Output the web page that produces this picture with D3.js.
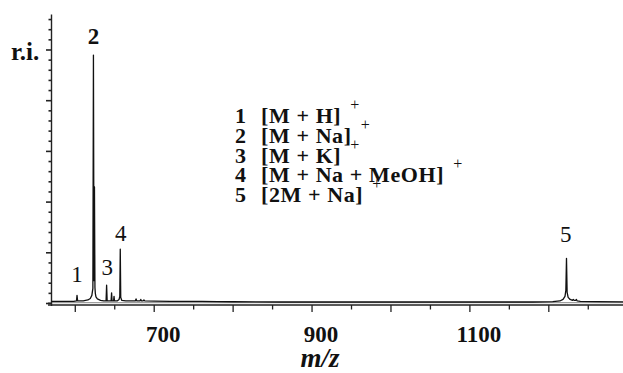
<!DOCTYPE html>
<html><head><meta charset="utf-8">
<script src="https://cdn.jsdelivr.net/npm/d3@7/dist/d3.min.js"></script>
<style>
body{margin:0;background:#fff;}
svg{display:block;font-family:"Liberation Serif","Times New Roman",serif;}
</style></head>
<body><svg id="c" width="623" height="373"></svg>
<script>
// spectrum (m/z, relative intensity)
const mz = [570,585,598,601.5,602.2,603,610,616,619,621,622.3,623.0,623.7,624.3,624.9,625.4,626.2,628,632,636,639.0,639.7,640.4,643,645.4,646.0,646.6,648.5,649.1,649.7,653,655.5,656.4,657.0,657.6,659,664,676,677,678,682,683,684,686,687,688,700,720,740,760,780,800,860,960,1100,1180,1205,1214,1218,1220.5,1221.6,1222.4,1223.2,1224.5,1227,1230,1231,1232,1234,1235,1236,1240,1260,1296];
const intensity = [0.4,0.4,0.4,0.5,1.6,0.5,0.5,0.7,1.0,1.6,3.0,49,4.5,23,3.2,2.0,1.3,0.9,0.6,0.5,0.5,3.6,0.5,0.5,0.5,2.1,0.5,0.5,1.4,0.5,0.5,0.8,1.4,10.7,1.2,0.6,0.5,0.5,0.9,0.5,0.5,0.8,0.5,0.5,0.7,0.5,0.45,0.4,0.4,0.4,0.35,0.35,0.3,0.3,0.3,0.3,0.35,0.5,0.8,1.4,2.6,8.9,2.2,1.2,0.8,0.6,0.8,0.6,0.6,0.8,0.5,0.4,0.35,0.3];
const peakLabels = ["1","2","3","4","5"];
const peakMz = [602.2,623.0,640.4,657.6,1221.6];
const peakTop = [1.6,49,3.6,10.7,8.9];
const legendNums = ["1","2","3","4","5"];
const legendIons = ["[M + H]","[M + Na]","[M + K]","[M + Na + MeOH]","[2M + Na]"];
const xTickLabels = [700,900,1100];

const svg = d3.select("#c");
const x = d3.scaleLinear().domain([570.5,1294]).range([52,623]);
const y = d3.scaleLinear().domain([0,57]).range([303.5,14.5]);

// x axis
const xMinor = d3.range(600,1300,50);
const gx = svg.append("g").attr("transform","translate(0,305)");
gx.append("line").attr("x1",48).attr("x2",623).attr("stroke","#222").attr("stroke-width",1.6);
gx.append("line").attr("x1",48).attr("x2",623).attr("y1",-2.3).attr("y2",-2.3).attr("stroke","#888").attr("stroke-width",1);
gx.selectAll("line.t").data(xMinor).join("line").attr("class","t")
  .attr("x1",d=>x(d)).attr("x2",d=>x(d)).attr("y1",0).attr("y2",d=>d%100===0?7:4.5)
  .attr("stroke","#222").attr("stroke-width",1.3);
gx.selectAll("text").data(xTickLabels).join("text")
  .attr("x",d=>x(d)+9).attr("y",37).attr("text-anchor","middle")
  .attr("font-size",23).attr("font-weight","bold").attr("fill","#111").text(d=>d);

// y axis
const yTicks = d3.range(0,57,2);
const gy = svg.append("g");
gy.append("line").attr("x1",51.5).attr("x2",51.5).attr("y1",y(57)).attr("y2",306).attr("stroke","#222").attr("stroke-width",1.4);
gy.selectAll("line.t").data(yTicks).join("line").attr("class","t")
  .attr("x1",d=>d%10===0?46:48.5).attr("x2",51.5).attr("y1",d=>y(d)).attr("y2",d=>y(d))
  .attr("stroke","#222").attr("stroke-width",1.6);

// spectrum
const pts = mz.map((m,i)=>[m,intensity[i]]);
svg.append("path").datum(pts)
  .attr("d",d3.line().x(d=>x(d[0])).y(d=>y(d[1])))
  .attr("fill","none").attr("stroke","#111").attr("stroke-width",1.3).attr("stroke-linejoin","round");

// peak labels
const labelGap = [13,11,10,8,16];
svg.selectAll("text.pl").data(peakLabels).join("text").attr("class","pl")
  .attr("x",(d,i)=>x(peakMz[i])).attr("y",(d,i)=>y(peakTop[i])-labelGap[i])
  .attr("text-anchor","middle").attr("font-size",23).attr("font-weight",(d,i)=>i===1?"bold":"normal")
  .attr("fill","#111").text(d=>d);

// r.i.
svg.append("text").attr("x",11).attr("y",60).attr("font-size",25).attr("font-weight","bold").attr("fill","#111").text("r.i.");

// legend
const lg = svg.append("g").attr("font-weight","bold").attr("fill","#111").attr("font-size",22);
legendNums.forEach((n,i)=>{
  const yy = 123 + i*19.8;
  lg.append("text").attr("x",235).attr("y",yy).text(n);
  const t = lg.append("text").attr("x",261).attr("y",yy).attr("letter-spacing",0.6).text(legendIons[i]);
  const w = t.node().getComputedTextLength();
  lg.append("text").attr("x",261+w+9).attr("y",yy-13).attr("font-size",16).attr("font-weight","normal").text("+");
});

// axis title
svg.append("text").attr("x",320).attr("y",367).attr("text-anchor","middle")
  .attr("font-size",27).attr("font-weight","bold").attr("font-style","italic").attr("fill","#111").text("m/z");
</script></body></html>
